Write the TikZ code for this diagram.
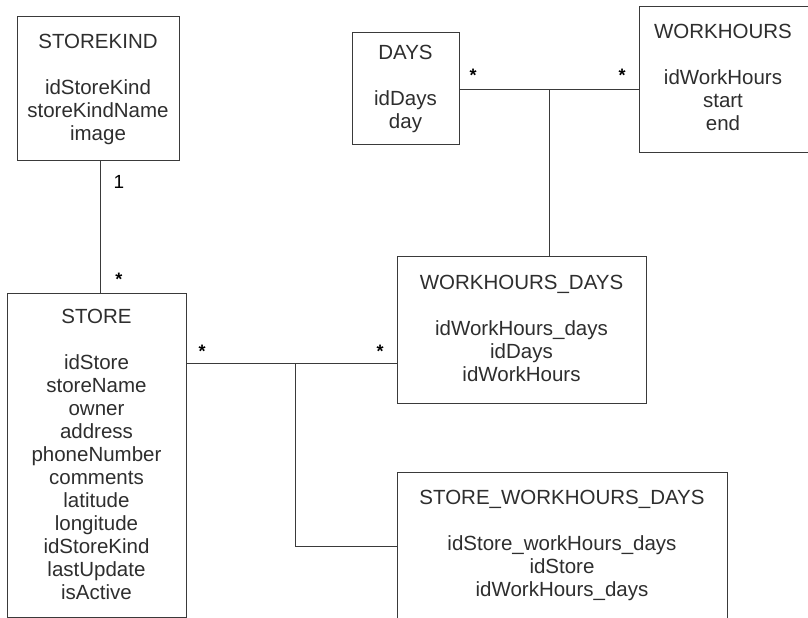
\documentclass[tikz,border=0pt]{standalone}
\usepackage{fontspec}
\setmainfont{Liberation Sans}
\begin{document}
\begin{tikzpicture}[x=1pt,y=-1pt,
  ent/.style={draw=linec, line width=1pt, inner sep=0pt, anchor=north west},
  txt/.style={anchor=north, align=center, inner sep=0pt, text=textc,
    font=\fontsize{20.5}{23}\selectfont},
  conn/.style={draw=linec, line width=1pt},
  mult/.style={inner sep=0pt, text=black, font=\fontsize{19}{19}\selectfont},
  star/.style={inner sep=0pt, text=black, font=\bfseries\fontsize{18}{18}\selectfont}]
\definecolor{linec}{HTML}{3A3A3A}
\definecolor{textc}{HTML}{2E2E2E}
\useasboundingbox[fill=white] (0,0) rectangle (808,618);
% boxes
\node[ent, minimum width=162pt, minimum height=144pt] (sk) at (17,16) {};
\node[ent, minimum width=179pt, minimum height=324pt] (store) at (7,293) {};
\node[ent, minimum width=107pt, minimum height=112pt] (days) at (352,32) {};
\node[ent, minimum width=175pt, minimum height=146pt] (wh) at (639,6) {};
\node[ent, minimum width=249pt, minimum height=147pt] (whd) at (397,256) {};
\node[ent, minimum width=330pt, minimum height=160pt] (swd) at (397,472) {};
% texts
\node[txt] (skt) at (98,34) {STOREKIND\\[23pt]idStoreKind\\storeKindName\\image};
\node[txt] (storet) at (96.5,309) {STORE\\[23pt]idStore\\storeName\\owner\\address\\phoneNumber\\comments\\latitude\\longitude\\idStoreKind\\lastUpdate\\isActive};
\node[txt] (dayst) at (405.5,45) {DAYS\\[23pt]idDays\\day};
\node[txt] (wht) at (723,24) {WORKHOURS\\[23pt]idWorkHours\\start\\end};
\node[txt] (whdt) at (521.5,275) {WORKHOURS\_DAYS\\[23pt]idWorkHours\_days\\idDays\\idWorkHours};
\node[txt] (swdt) at (562,490) {STORE\_WORKHOURS\_DAYS\\[23pt]idStore\_workHours\_days\\idStore\\idWorkHours\_days};
% connectors
\coordinate (j1) at (295,363);
\coordinate (j2) at (549,89);
\draw[conn] (sk.south -| 100,0) -- (store.north -| 100,0);
\draw[conn] (store.east |- j1) -- (whd.west |- j1);
\draw[conn] (j1) -- (j1 |- 0,546) -- (swd.west |- 0,546);
\draw[conn] (days.east |- j2) -- (wh.west |- j2);
\draw[conn] (j2) -- (whd.north -| j2);
% multiplicities
\node[mult] (m1) at (119,182) {1};
\node[star] (m2) at (119,279) {*};
\node[star] (m3) at (202,351) {*};
\node[star] (m4) at (380,351) {*};
\node[star] (m5) at (473,75) {*};
\node[star] (m6) at (622,75) {*};
\end{tikzpicture}
\end{document}
